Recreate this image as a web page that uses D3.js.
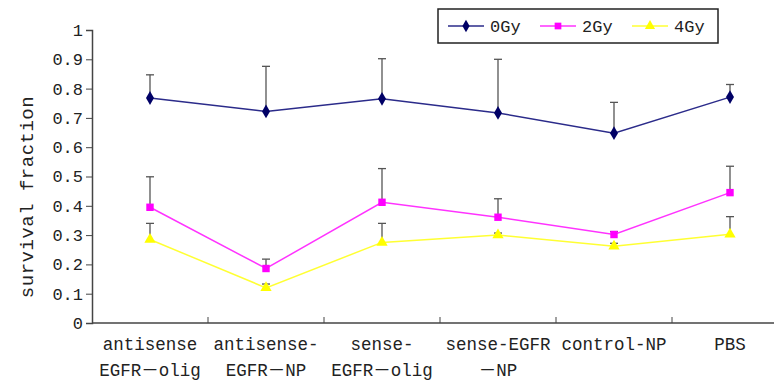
<!DOCTYPE html>
<html>
<head>
<meta charset="utf-8">
<script src="https://cdn.jsdelivr.net/npm/d3@7"></script>
<style>
  body { margin: 0; background: #fff; }
  text { font-family: "Liberation Mono", "Noto Sans CJK SC", monospace; fill: #222; }
</style>
</head>
<body>
<script>
const categories = ["antisense EGFR－olig", "antisense- EGFR－NP", "sense- EGFR－olig", "sense-EGFR －NP", "control-NP", "PBS"];
const labelLines = [
  ["antisense", "EGFR－olig"],
  ["antisense-", "EGFR－NP"],
  ["sense-", "EGFR－olig"],
  ["sense-EGFR", "－NP"],
  ["control-NP", ""],
  ["PBS", ""]
];
const seriesNames = ["0Gy", "2Gy", "4Gy"];
const gy0 = [0.768, 0.722, 0.765, 0.717, 0.648, 0.771];
const gy0Err = [0.847, 0.876, 0.902, 0.900, 0.753, 0.814];
const gy2 = [0.395, 0.186, 0.412, 0.361, 0.302, 0.445];
const gy2Err = [0.499, 0.218, 0.527, 0.424, 0.312, 0.535];
const gy4 = [0.285, 0.120, 0.275, 0.300, 0.262, 0.303];
const gy4Err = [0.340, 0.133, 0.340, 0.307, 0.272, 0.363];
const yTicks = [0, 0.1, 0.2, 0.3, 0.4, 0.5, 0.6, 0.7, 0.8, 0.9, 1];

const width = 774;
const height = 385;

const series = [
  { name: seriesNames[0], values: gy0, err: gy0Err, line: "#2b2b8a", fill: "#000066", shape: d3.symbolDiamond },
  { name: seriesNames[1], values: gy2, err: gy2Err, line: "#ff33ff", fill: "#ff00ff", shape: d3.symbolSquare },
  { name: seriesNames[2], values: gy4, err: gy4Err, line: "#ffff33", fill: "#ffff00", shape: d3.symbolTriangle }
];

const svg = d3.select("body").append("svg")
  .attr("width", width)
  .attr("height", height);

const x = d3.scaleBand().domain(categories).range([92, 788]).padding(0);
const y = d3.scaleLinear().domain([0, 1]).range([323, 30]);
const cx = (c) => x(c) + x.bandwidth() / 2;

// y axis
const yAxis = d3.axisLeft(y).tickValues(yTicks).tickSize(6).tickFormat(d3.format("~g"));
const gy = svg.append("g").attr("transform", "translate(92,0)").call(yAxis);
gy.select(".domain").attr("stroke", "#444").attr("stroke-width", 1.5);
gy.selectAll(".tick line").attr("stroke", "#444");
gy.selectAll(".tick text").attr("font-size", "17px").attr("fill", "#222").attr("x", -9);

// x axis
const gx = svg.append("g").attr("transform", "translate(0,323)");
gx.append("line").attr("x1", 92).attr("x2", width).attr("stroke", "#444").attr("stroke-width", 1.5);
gx.selectAll(".xt").data(categories.slice(1)).enter().append("line")
  .attr("x1", (d) => x(d)).attr("x2", (d) => x(d))
  .attr("y1", 0).attr("y2", -6).attr("stroke", "#444");

const lab = svg.append("g").selectAll("text").data(categories).enter().append("text")
  .attr("text-anchor", "middle")
  .attr("font-size", "17.5px");
lab.append("tspan").attr("x", (d) => cx(d)).attr("y", 350).text((d, i) => labelLines[i][0]);
lab.append("tspan").attr("x", (d) => cx(d)).attr("y", 376).text((d, i) => labelLines[i][1]);

svg.append("text")
  .attr("transform", "translate(33,197) rotate(-90)")
  .attr("text-anchor", "middle")
  .attr("font-size", "19px")
  .attr("letter-spacing", "0.5px")
  .text("survival fraction");

// error bars
series.forEach((s) => {
  const g = svg.append("g");
  categories.forEach((c, i) => {
    g.append("line").attr("x1", cx(c)).attr("x2", cx(c))
      .attr("y1", y(s.values[i])).attr("y2", y(s.err[i]))
      .attr("stroke", "#555").attr("stroke-width", 1.3);
    g.append("line").attr("x1", cx(c) - 4).attr("x2", cx(c) + 4)
      .attr("y1", y(s.err[i])).attr("y2", y(s.err[i]))
      .attr("stroke", "#555").attr("stroke-width", 1.3);
  });
});

// lines and markers
const line = d3.line().x((d, i) => cx(categories[i])).y((d) => y(d));
series.forEach((s) => {
  svg.append("path").datum(s.values)
    .attr("fill", "none").attr("stroke", s.line).attr("stroke-width", 1.5)
    .attr("d", line);
  svg.append("g").selectAll("path").data(s.values).enter().append("path")
    .attr("d", d3.symbol().type(s.shape).size(55))
    .attr("transform", (d, i) => `translate(${cx(categories[i])},${y(d)})`)
    .attr("fill", s.fill);
});

// legend
const legend = svg.append("g");
legend.append("rect").attr("x", 438).attr("y", 9).attr("width", 280).attr("height", 34)
  .attr("fill", "#fff").attr("stroke", "#222").attr("stroke-width", 1.5);
const legendX = [448, 540, 632];
series.forEach((s, i) => {
  const lx = legendX[i];
  legend.append("line").attr("x1", lx).attr("x2", lx + 36).attr("y1", 26).attr("y2", 26)
    .attr("stroke", s.line).attr("stroke-width", 1.5);
  legend.append("path").attr("d", d3.symbol().type(s.shape).size(45))
    .attr("transform", `translate(${lx + 18},26)`).attr("fill", s.fill);
  legend.append("text").attr("x", lx + 42).attr("y", 32).attr("font-size", "17px").text(s.name);
});
</script>
</body>
</html>
